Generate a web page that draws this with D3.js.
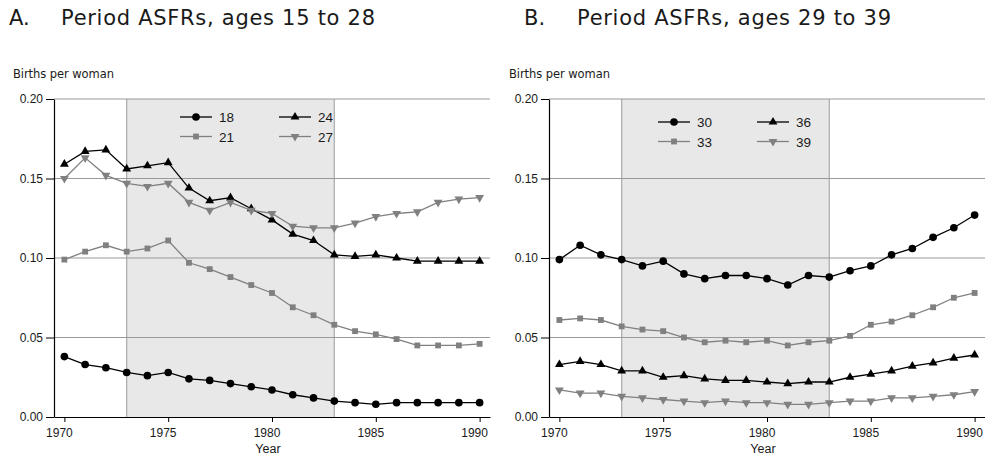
<!DOCTYPE html>
<html>
<head>
<meta charset="utf-8">
<script src="https://cdn.jsdelivr.net/npm/d3@7"></script>
<style>
  html, body { margin: 0; padding: 0; background: #fff; }
  svg { display: block; font-family: "Liberation Sans", Arial, sans-serif; }
</style>
</head>
<body>
<svg id="chart" width="985" height="457"></svg>
<script>
// Calendar years on the x axis
const years = [1970, 1971, 1972, 1973, 1974, 1975, 1976, 1977, 1978, 1979, 1980,
               1981, 1982, 1983, 1984, 1985, 1986, 1987, 1988, 1989, 1990];

// Period age-specific fertility rates (births per woman), ages 15 to 28
const asfr18 = [0.038, 0.033, 0.031, 0.028, 0.026, 0.028, 0.024, 0.023, 0.021, 0.019, 0.017,
                0.014, 0.012, 0.010, 0.009, 0.008, 0.009, 0.009, 0.009, 0.009, 0.009];
const asfr21 = [0.099, 0.104, 0.108, 0.104, 0.106, 0.111, 0.097, 0.093, 0.088, 0.083, 0.078,
                0.069, 0.064, 0.058, 0.054, 0.052, 0.049, 0.045, 0.045, 0.045, 0.046];
const asfr24 = [0.159, 0.167, 0.168, 0.156, 0.158, 0.160, 0.144, 0.136, 0.138, 0.131, 0.124,
                0.115, 0.111, 0.102, 0.101, 0.102, 0.100, 0.098, 0.098, 0.098, 0.098];
const asfr27 = [0.150, 0.163, 0.152, 0.147, 0.145, 0.147, 0.135, 0.130, 0.135, 0.130, 0.128,
                0.120, 0.119, 0.119, 0.122, 0.126, 0.128, 0.129, 0.135, 0.137, 0.138];

// Period age-specific fertility rates, ages 29 to 39
const asfr30 = [0.099, 0.108, 0.102, 0.099, 0.095, 0.098, 0.090, 0.087, 0.089, 0.089, 0.087,
                0.083, 0.089, 0.088, 0.092, 0.095, 0.102, 0.106, 0.113, 0.119, 0.127];
const asfr33 = [0.061, 0.062, 0.061, 0.057, 0.055, 0.054, 0.050, 0.047, 0.048, 0.047, 0.048,
                0.045, 0.047, 0.048, 0.051, 0.058, 0.060, 0.064, 0.069, 0.075, 0.078];
const asfr36 = [0.033, 0.035, 0.033, 0.029, 0.029, 0.025, 0.026, 0.024, 0.023, 0.023, 0.022,
                0.021, 0.022, 0.022, 0.025, 0.027, 0.029, 0.032, 0.034, 0.037, 0.039];
const asfr39 = [0.017, 0.015, 0.015, 0.013, 0.012, 0.011, 0.010, 0.009, 0.010, 0.009, 0.009,
                0.008, 0.008, 0.009, 0.010, 0.010, 0.012, 0.012, 0.013, 0.014, 0.016];

// Axis ticks and the shaded period
const yTicks = [0.00, 0.05, 0.10, 0.15, 0.20];
const xTicks = [1970, 1975, 1980, 1985, 1990];
const shadedPeriod = [1973, 1983];

const BLACK = "#000";
const GREY = "#808080";
const TEXT = "#1a1a1a";
const WIDE_FONT = "DejaVu Sans, Verdana, sans-serif";

const panels = [
  {
    letter: "A.", title: "Period ASFRs, ages 15 to 28",
    left: 54, right: 490, letterX: 9, titleX: 61, unitX: 13, legendX: 180, legendY: 117,
    series: [
      { label: "18", values: asfr18, color: BLACK, symbol: "circle" },
      { label: "21", values: asfr21, color: GREY, symbol: "square" },
      { label: "24", values: asfr24, color: BLACK, symbol: "up" },
      { label: "27", values: asfr27, color: GREY, symbol: "down" }
    ]
  },
  {
    letter: "B.", title: "Period ASFRs, ages 29 to 39",
    left: 549, right: 985, letterX: 524, titleX: 577, unitX: 509, legendX: 658, legendY: 122,
    series: [
      { label: "30", values: asfr30, color: BLACK, symbol: "circle" },
      { label: "33", values: asfr33, color: GREY, symbol: "square" },
      { label: "36", values: asfr36, color: BLACK, symbol: "up" },
      { label: "39", values: asfr39, color: GREY, symbol: "down" }
    ]
  }
];

const svg = d3.select("#chart");
const TOP = 99, BOTTOM = 417;

function drawMarker(sel, kind, color) {
  if (kind === "circle") {
    sel.append("path").attr("d", d3.symbol(d3.symbolCircle, 46)()).attr("fill", color);
  } else if (kind === "square") {
    sel.append("path").attr("d", d3.symbol(d3.symbolSquare, 34)()).attr("fill", color);
  } else if (kind === "up") {
    sel.append("path").attr("d", d3.symbol(d3.symbolTriangle, 34)()).attr("fill", color);
  } else {
    sel.append("path").attr("d", d3.symbol(d3.symbolTriangle, 34)())
      .attr("transform", "rotate(180)").attr("fill", color);
  }
}

panels.forEach(p => {
  const g = svg.append("g");
  const x = d3.scaleLinear().domain([1969.5, 1990.5]).range([p.left, p.right]);
  const y = d3.scaleLinear().domain([0, 0.2]).range([BOTTOM, TOP]);

  // Panel heading
  g.append("text").attr("x", p.letterX).attr("y", 25).attr("font-size", 21).attr("fill", TEXT)
    .attr("font-family", WIDE_FONT).text(p.letter);
  g.append("text").attr("x", p.titleX).attr("y", 25).attr("font-size", 21).attr("fill", TEXT)
    .attr("font-family", WIDE_FONT)
    .attr("textLength", 314).attr("lengthAdjust", "spacing").text(p.title);

  g.append("text").attr("x", p.unitX).attr("y", 78).attr("font-size", 11.5).attr("fill", TEXT)
    .attr("font-family", WIDE_FONT)
    .attr("textLength", 101).attr("lengthAdjust", "spacing").text("Births per woman");

  // Shaded period
  g.append("rect")
    .attr("x", x(shadedPeriod[0])).attr("y", TOP)
    .attr("width", x(shadedPeriod[1]) - x(shadedPeriod[0])).attr("height", BOTTOM - TOP)
    .attr("fill", "#e8e8e8");
  shadedPeriod.forEach(yr => {
    g.append("line").attr("x1", x(yr)).attr("x2", x(yr)).attr("y1", TOP).attr("y2", BOTTOM)
      .attr("stroke", "#aaa").attr("stroke-width", 1.2);
  });

  // Horizontal gridlines
  g.append("g").selectAll("line").data(yTicks.filter(t => t > 0)).join("line")
    .attr("x1", p.left).attr("x2", p.right)
    .attr("y1", d => y(d)).attr("y2", d => y(d))
    .attr("stroke", "#999").attr("stroke-width", 1);

  // Axes
  const yAxis = g.append("g").attr("transform", `translate(${p.left},0)`)
    .call(d3.axisLeft(y).tickValues(yTicks).tickFormat(d3.format(".2f")).tickSize(8).tickSizeOuter(0));
  yAxis.select(".domain").attr("stroke", "#000").attr("stroke-width", 1.2);
  yAxis.selectAll(".tick line").attr("stroke", "#000");
  yAxis.selectAll(".tick text").attr("font-size", 12).attr("fill", TEXT)
    .attr("font-family", "Liberation Sans, Arial, sans-serif").attr("x", -11);

  const xAxis = g.append("g").attr("transform", `translate(0,${BOTTOM})`)
    .call(d3.axisBottom(x).tickValues(xTicks).tickFormat(d3.format("d")).tickSize(5).tickSizeOuter(0));
  xAxis.select(".domain").attr("stroke", "#000").attr("stroke-width", 1.2);
  xAxis.selectAll(".tick line").attr("stroke", "#000");
  xAxis.selectAll(".tick text").attr("font-size", 12).attr("fill", TEXT)
    .attr("font-family", "Liberation Sans, Arial, sans-serif").attr("y", 11.5).attr("x", -5.5);

  g.append("text").attr("x", (p.left + p.right) / 2 - 4).attr("y", 453)
    .attr("text-anchor", "middle").attr("font-size", 12.5).attr("fill", TEXT).text("Year");

  // Series lines and markers
  const line = d3.line().x((d, i) => x(years[i])).y(d => y(d));
  p.series.forEach(s => {
    g.append("path").datum(s.values).attr("d", line)
      .attr("fill", "none").attr("stroke", s.color).attr("stroke-width", 1.3);
    g.append("g").selectAll("g").data(s.values).join("g")
      .attr("transform", (d, i) => `translate(${x(years[i])},${y(d)})`)
      .each(function () { drawMarker(d3.select(this), s.symbol, s.color); });
  });

  // Legend in two columns
  p.series.forEach((s, i) => {
    const col = Math.floor(i / 2), row = i % 2;
    const lx = p.legendX + col * 99, ly = p.legendY + row * 19.5;
    const lg = g.append("g");
    lg.append("line").attr("x1", lx).attr("x2", lx + 32).attr("y1", ly).attr("y2", ly)
      .attr("stroke", s.color).attr("stroke-width", 1.3);
    const m = lg.append("g").attr("transform", `translate(${lx + 16},${ly})`);
    drawMarker(m, s.symbol, s.color);
    lg.append("text").attr("x", lx + 39).attr("y", ly + 5).attr("font-size", 13.5).attr("fill", TEXT)
      .text(s.label);
  });
});
</script>
</body>
</html>
